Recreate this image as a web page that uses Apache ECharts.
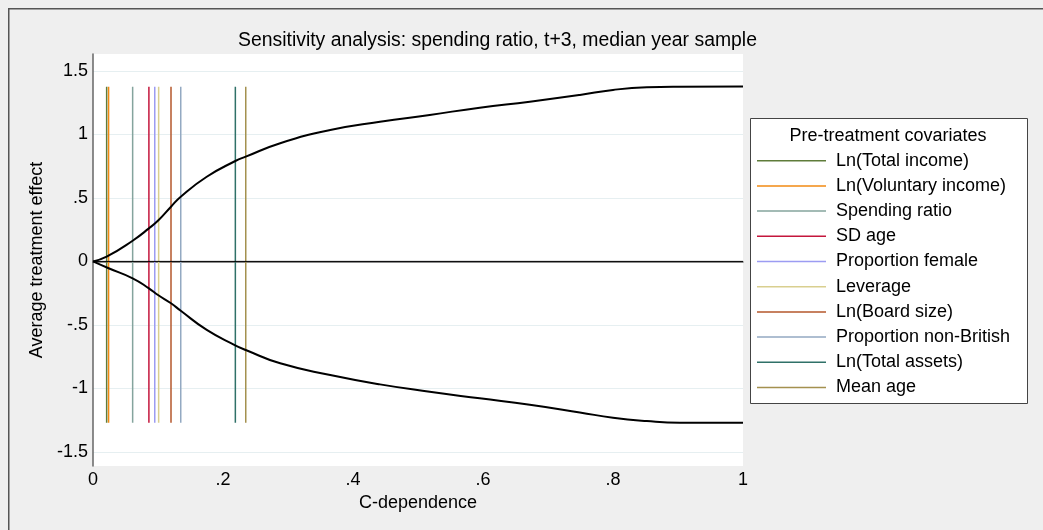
<!DOCTYPE html>
<html>
<head>
<meta charset="utf-8">
<script src="https://cdn.jsdelivr.net/npm/echarts@6/dist/echarts.min.js"></script>
<style>
  html, body { margin: 0; padding: 0; background: #efefef; }
  #chart { width: 1043px; height: 530px; }
</style>
</head>
<body>
<div id="chart"></div>
<script>
// upper and lower bound curves (C-dependence -> average treatment effect)
const upperX = [0, 0.021, 0.061, 0.086, 0.101, 0.12, 0.135, 0.175, 0.219, 0.235, 0.288, 0.365, 0.4415, 0.518, 0.595, 0.672, 0.749, 0.8, 0.852, 0.9, 1];
const upperY = [0, 0.037, 0.163, 0.26, 0.326, 0.431, 0.51, 0.667, 0.791, 0.825, 0.931, 1.035, 1.10, 1.154, 1.211, 1.258, 1.311, 1.351, 1.372, 1.376, 1.377];
const lowerX = [0, 0.024, 0.061, 0.086, 0.1, 0.12, 0.135, 0.175, 0.218, 0.235, 0.288, 0.365, 0.4415, 0.518, 0.595, 0.672, 0.749, 0.8, 0.852, 0.903, 1];
const lowerY = [0, -0.054, -0.133, -0.212, -0.265, -0.33, -0.389, -0.54, -0.659, -0.698, -0.803, -0.895, -0.969, -1.027, -1.079, -1.13, -1.19, -1.232, -1.258, -1.271, -1.272];

// covariate reference lines
const covariates = ['Ln(Total income)', 'Ln(Voluntary income)', 'Spending ratio', 'SD age', 'Proportion female',
  'Leverage', 'Ln(Board size)', 'Proportion non-British', 'Ln(Total assets)', 'Mean age'];
const covariateX = [0.021, 0.024, 0.061, 0.086, 0.095, 0.101, 0.12, 0.135, 0.219, 0.235];
const covariateColors = ['#5f7c3a', '#f28a12', '#84a49d', '#c4163c', '#9c9cf2', '#d9cf8f', '#b5572b', '#93a9c2', '#2f7168', '#a4914f'];
const lineBottom = -1.272;
const lineTop = 1.375;

const yTicks = [-1.5, -1, -0.5, 0, 0.5, 1, 1.5];
const xTicks = [0, 0.2, 0.4, 0.6, 0.8, 1];

const fmt = v => {
  if (v === 0) return '0';
  if (v === 1) return '1';
  return String(v).replace(/^(-?)0\./, '$1.');
};

const chartDom = document.getElementById('chart');
const myChart = echarts.init(chartDom);
const font = 'Liberation Sans, Arial, Helvetica, sans-serif';

const series = [];
covariates.forEach((name, i) => {
  series.push({
    name: name,
    type: 'line',
    symbol: 'none',
    silent: true,
    z: 2,
    data: [[covariateX[i], lineBottom], [covariateX[i], lineTop]],
    lineStyle: { color: covariateColors[i], width: 1.5 },
    itemStyle: { color: covariateColors[i] }
  });
});
series.push({
  type: 'line',
  symbol: 'none',
  smooth: 0.5,
  z: 3,
  data: upperX.map((x, i) => [x, upperY[i]]),
  lineStyle: { color: '#000', width: 2 }
});
series.push({
  type: 'line',
  symbol: 'none',
  smooth: 0.5,
  z: 3,
  data: lowerX.map((x, i) => [x, lowerY[i]]),
  lineStyle: { color: '#000', width: 2 }
});
series.push({
  type: 'line',
  symbol: 'none',
  z: 3,
  data: [[0, 0], [1, 0]],
  lineStyle: { color: '#000', width: 1 }
});

const option = {
  backgroundColor: '#efefef',
  animation: false,
  textStyle: { fontFamily: font },
  title: {
    text: 'Sensitivity analysis: spending ratio, t+3, median year sample',
    left: 238,
    top: 31,
    padding: 0,
    textStyle: { fontSize: 19.4, fontWeight: 'normal', color: '#000', fontFamily: font }
  },
  grid: {
    left: 93,
    right: 300,
    top: 54,
    bottom: 64,
    show: true,
    backgroundColor: '#fff',
    borderWidth: 0
  },
  xAxis: {
    type: 'value',
    min: 0,
    max: 1,
    name: 'C-dependence',
    nameLocation: 'middle',
    nameGap: 23,
    nameTextStyle: { fontSize: 18, color: '#000' },
    axisLine: { show: true, lineStyle: { color: '#666', width: 1.5 } },
    axisTick: { show: false, customValues: xTicks },
    axisLabel: { customValues: xTicks, formatter: fmt, fontSize: 18, color: '#000', margin: 5 },
    splitLine: { show: false }
  },
  yAxis: {
    type: 'value',
    min: -1.612,
    max: 1.634,
    name: 'Average treatment effect',
    nameLocation: 'middle',
    nameGap: 41,
    nameTextStyle: { fontSize: 18, color: '#000' },
    axisLine: { show: true, lineStyle: { color: '#666', width: 1.5 } },
    axisTick: { show: false, customValues: yTicks },
    axisLabel: { customValues: yTicks, formatter: fmt, fontSize: 18, color: '#000', margin: 5 },
    splitLine: { show: true, lineStyle: { color: '#e6eff1', width: 1 } }
  },
  legend: {
    data: covariates,
    orient: 'vertical',
    left: 757,
    top: 151.7,
    padding: 0,
    icon: 'path://M0,0L69,0L69,1.5L0,1.5Z',
    itemWidth: 69,
    itemHeight: 1.5,
    itemGap: 7.2,
    selectedMode: false,
    textStyle: { fontSize: 18, color: '#000', padding: [0, 0, 0, 5] }
  },
  graphic: [
    {
      type: 'rect',
      left: 8, top: 8,
      shape: { width: 1100, height: 1.5 },
      style: { fill: '#555' }
    },
    {
      type: 'rect',
      left: 8, top: 8,
      shape: { width: 1.5, height: 600 },
      style: { fill: '#555' }
    },
    {
      type: 'rect',
      left: 750, top: 118,
      z: -1,
      shape: { width: 277, height: 285 },
      style: { fill: '#fff', stroke: '#444', lineWidth: 1 }
    },
    {
      type: 'text',
      x: 888,
      y: 136,
      style: {
        text: 'Pre-treatment covariates',
        textAlign: 'center',
        textVerticalAlign: 'middle',
        fill: '#000',
        fontSize: 18,
        fontFamily: font
      }
    }
  ],
  series: series
};

myChart.setOption(option);
</script>
</body>
</html>
